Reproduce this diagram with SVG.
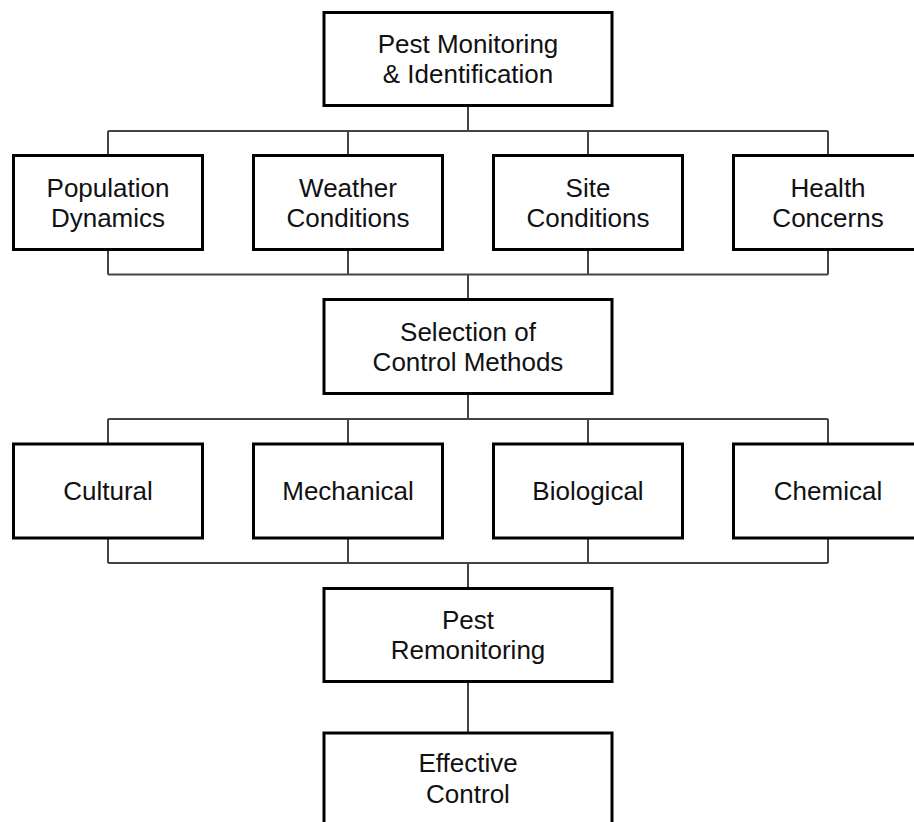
<svg xmlns="http://www.w3.org/2000/svg" width="914" height="822" viewBox="0 0 914 822">
<style>
.box{fill:#fff;stroke:#000;stroke-width:3}
.lbl{font-family:"Liberation Sans",Arial,sans-serif;font-size:26px;fill:#111;text-anchor:middle}
.conn{fill:none;stroke:#444;stroke-width:2}
</style>
<rect width="914" height="822" fill="#fff"/>
<g id="connectors" class="conn">
<path d="M468 107V131M108 131H828M108 131V154M348 131V154M588 131V154M828 131V154"/>
<path d="M108 251V274.5M348 251V274.5M588 251V274.5M828 251V274.5M108 274.5H828M468 274.5V298"/>
<path d="M468 395V419M108 419H828M108 419V443M348 419V443M588 419V443M828 419V443"/>
<path d="M108 539V563M348 539V563M588 539V563M828 539V563M108 563H828M468 563V587"/>
<path d="M468 683V732"/>
</g>
<g id="n-monitoring"><rect class="box" x="324" y="12.5" width="288" height="93"/><text class="lbl" x="468" y="53">Pest Monitoring</text><text class="lbl" x="468" y="83">&amp; Identification</text></g>
<g id="n-population"><rect class="box" x="13.5" y="155.5" width="189" height="94"/><text class="lbl" x="108" y="197">Population</text><text class="lbl" x="108" y="227">Dynamics</text></g>
<g id="n-weather"><rect class="box" x="253.5" y="155.5" width="189" height="94"/><text class="lbl" x="348" y="197">Weather</text><text class="lbl" x="348" y="227">Conditions</text></g>
<g id="n-site"><rect class="box" x="493.5" y="155.5" width="189" height="94"/><text class="lbl" x="588" y="197">Site</text><text class="lbl" x="588" y="227">Conditions</text></g>
<g id="n-health"><rect class="box" x="733.5" y="155.5" width="189" height="94"/><text class="lbl" x="828" y="197">Health</text><text class="lbl" x="828" y="227">Concerns</text></g>
<g id="n-selection"><rect class="box" x="324" y="299.5" width="288" height="94"/><text class="lbl" x="468" y="341">Selection of</text><text class="lbl" x="468" y="371">Control Methods</text></g>
<g id="n-cultural"><rect class="box" x="13.5" y="444" width="189" height="94"/><text class="lbl" x="108" y="500">Cultural</text></g>
<g id="n-mechanical"><rect class="box" x="253.5" y="444" width="189" height="94"/><text class="lbl" x="348" y="500">Mechanical</text></g>
<g id="n-biological"><rect class="box" x="493.5" y="444" width="189" height="94"/><text class="lbl" x="588" y="500">Biological</text></g>
<g id="n-chemical"><rect class="box" x="733.5" y="444" width="189" height="94"/><text class="lbl" x="828" y="500">Chemical</text></g>
<g id="n-remonitoring"><rect class="box" x="324" y="588.5" width="288" height="93"/><text class="lbl" x="468" y="629">Pest</text><text class="lbl" x="468" y="659">Remonitoring</text></g>
<g id="n-effective"><rect class="box" x="324" y="733" width="288" height="100"/><text class="lbl" x="468" y="772">Effective</text><text class="lbl" x="468" y="803">Control</text></g>
</svg>
